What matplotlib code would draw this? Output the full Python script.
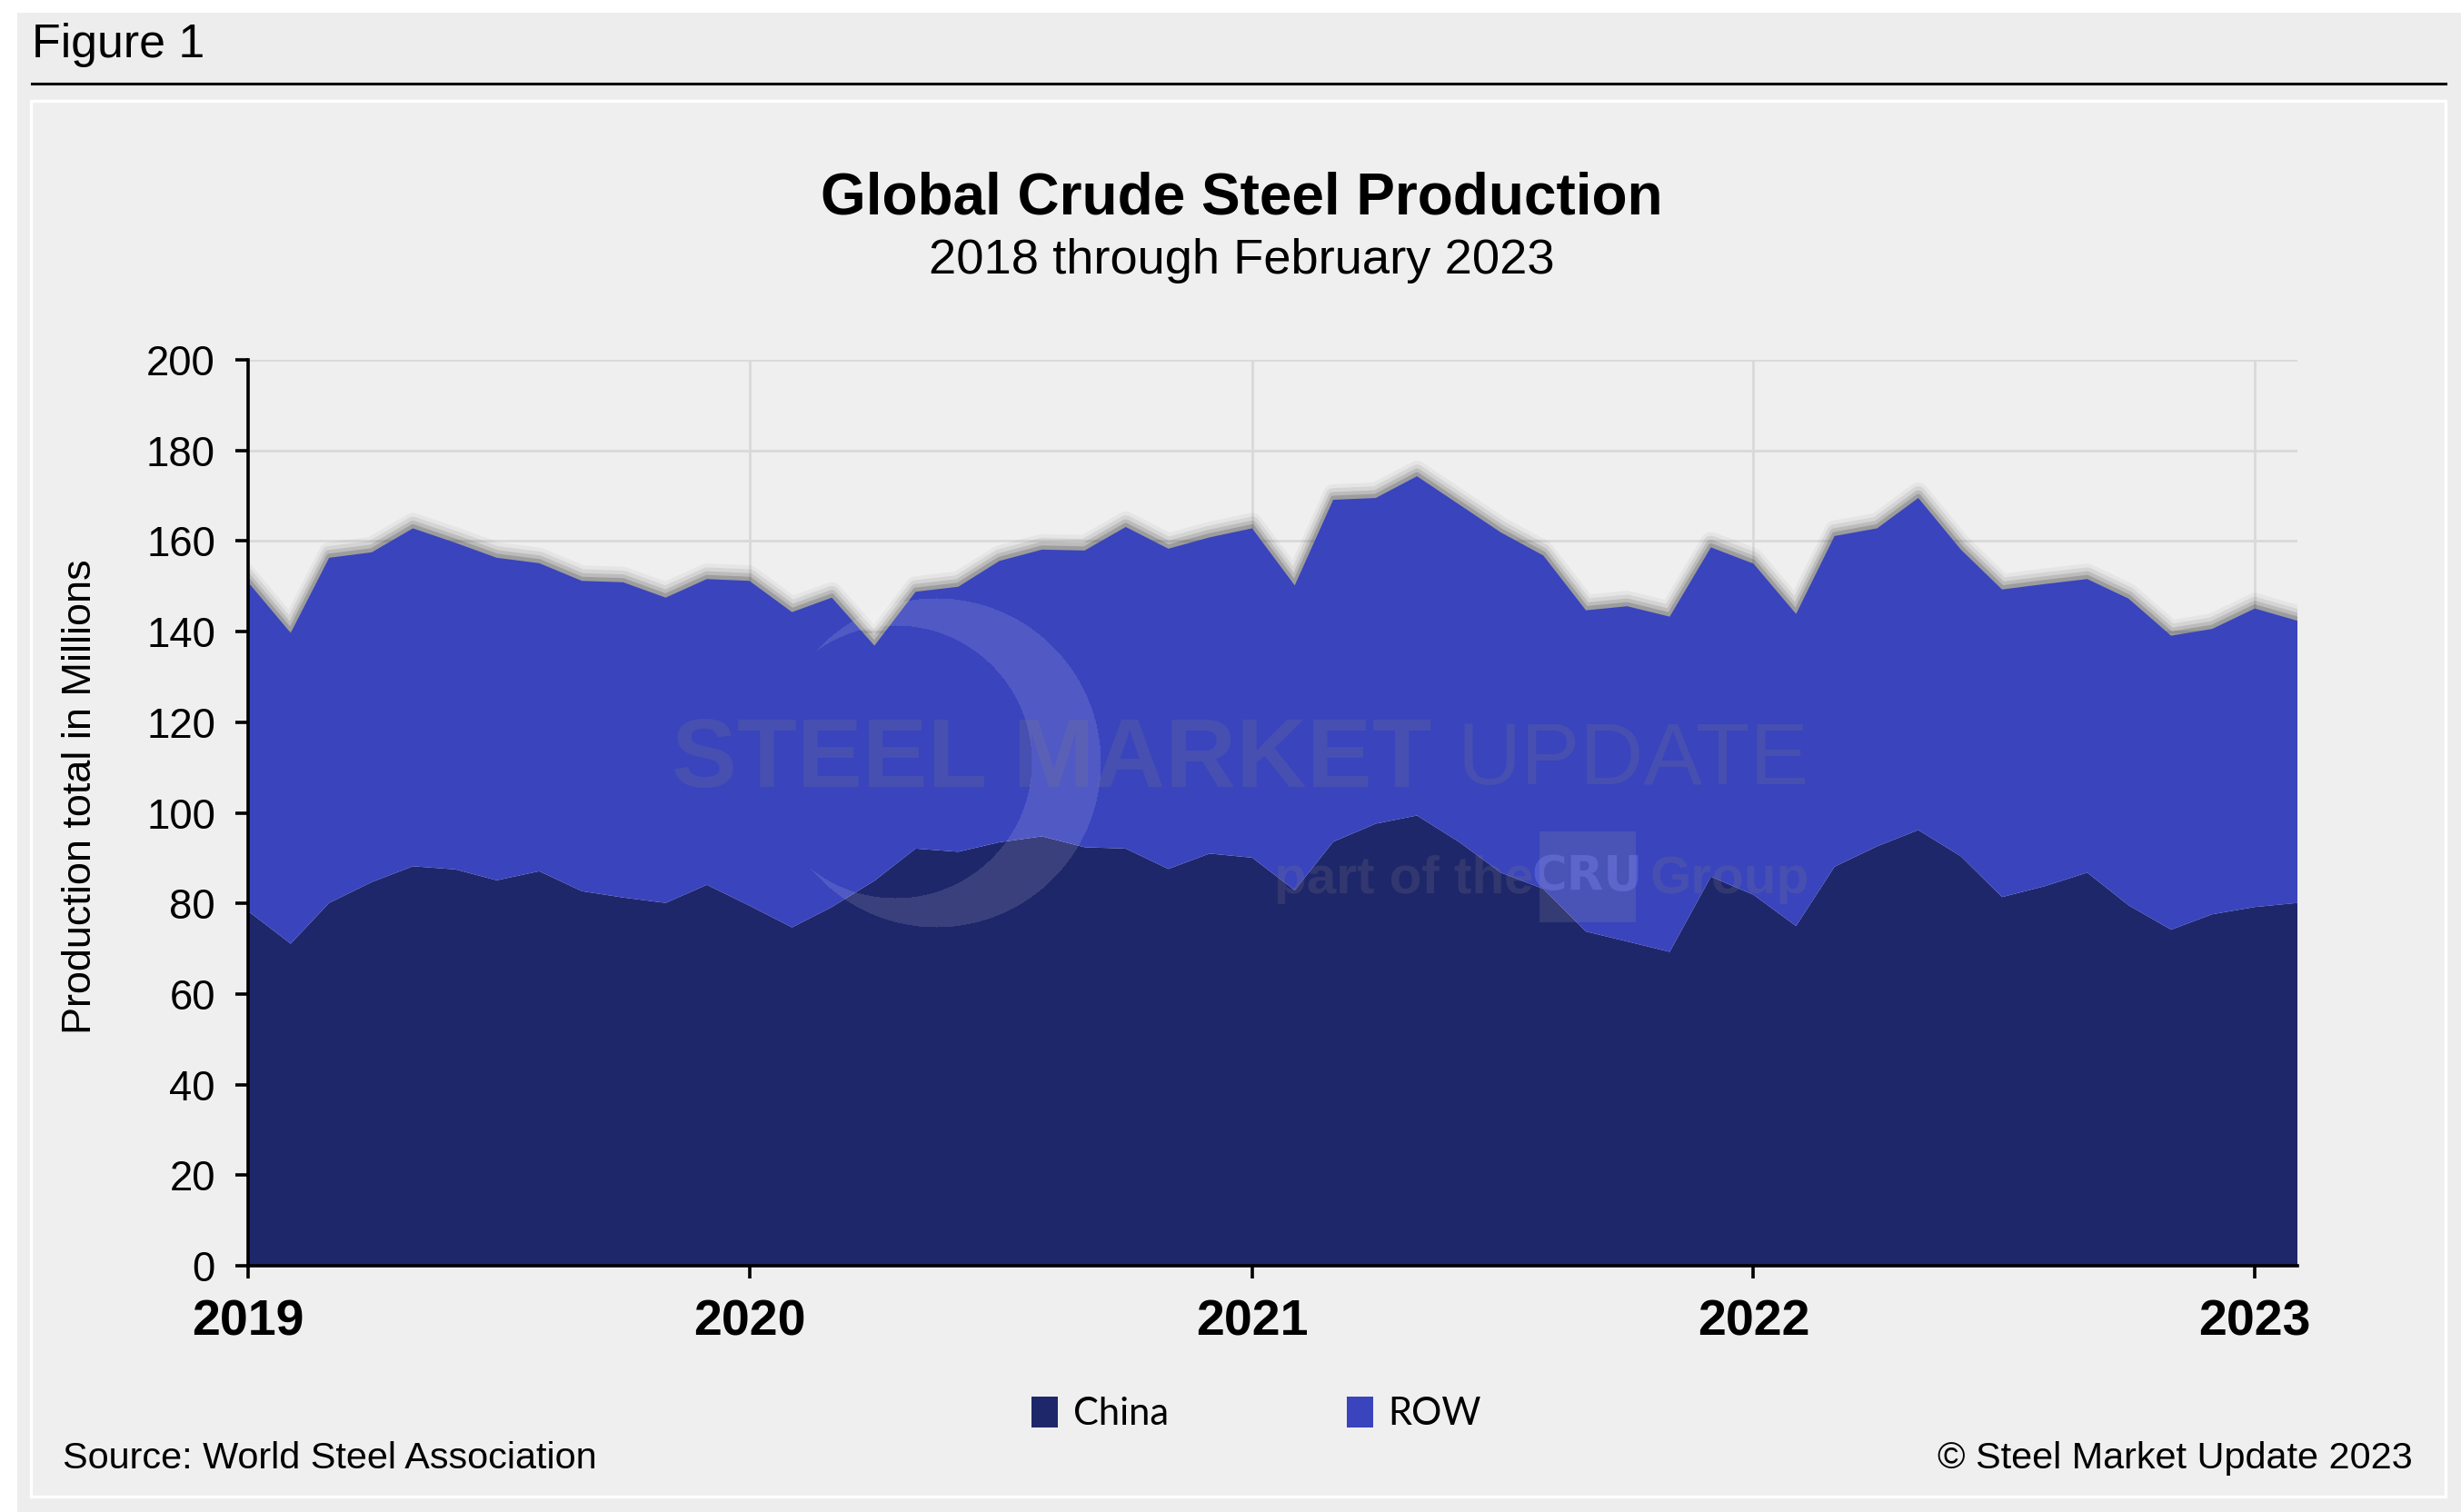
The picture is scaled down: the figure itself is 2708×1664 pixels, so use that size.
import numpy as np
import pandas as pd
import matplotlib.pyplot as plt
from matplotlib.patches import Rectangle
from matplotlib.lines import Line2D

# monthly data, Jan 2019 - Feb 2023 (million tonnes)
months = pd.date_range('2019-01-01', periods=50, freq='MS')
china = [78.3, 71.1, 80.1, 84.7, 88.2, 87.5, 85.1, 87.1, 82.7, 81.3, 80.1, 84.1,
         79.5, 74.7, 79.2, 85.0, 92.1, 91.4, 93.5, 94.8, 92.4, 92.1, 87.6, 91.0,
         90.1, 82.9, 93.6, 97.6, 99.4, 93.5, 86.8, 83.2, 73.8, 71.6, 69.3, 85.9,
         81.9, 75.0, 88.1, 92.6, 96.2, 90.4, 81.4, 83.8, 86.8, 79.6, 74.2, 77.6,
         79.2, 80.1]
total = [150.9, 139.7, 156.3, 157.5, 162.8, 159.6, 156.3, 155.1, 151.2, 150.9, 147.5, 151.6,
         151.2, 144.3, 147.5, 136.9, 148.8, 149.9, 155.6, 158.1, 157.9, 163.1, 158.3, 160.8,
         162.8, 150.2, 169.1, 169.5, 174.3, 168.0, 161.9, 156.8, 144.7, 145.6, 143.3, 158.6,
         155.0, 143.9, 161.1, 162.8, 169.5, 158.1, 149.3, 150.5, 151.6, 147.3, 139.1, 140.6,
         145.1, 142.4]
row = [round(t - c, 1) for t, c in zip(total, china)]

years = ['2019', '2020', '2021', '2022', '2023']
c_china = '#1F276B'
c_row = '#3944BD'

W, H = 2708, 1664
fig = plt.figure(figsize=(W / 200, H / 200), dpi=200, facecolor='#EDEDED')

# white margins + panel
fig.patches.append(Rectangle((0, 1 - 14 / H), 1, 14 / H, transform=fig.transFigure,
                             facecolor='white', edgecolor='none', zorder=-3))
fig.patches.append(Rectangle((0, 0), 19 / W, 1, transform=fig.transFigure,
                             facecolor='white', edgecolor='none', zorder=-3))
fig.patches.append(Rectangle((34 / W, 1 - 1647 / H), (2691 - 34) / W, (1647 - 111) / H,
                             transform=fig.transFigure, facecolor='#EFEFEF',
                             edgecolor='white', linewidth=1.2, zorder=-2))
fig.lines.append(Line2D([35 / W, 2691 / W], [1 - 92 / H, 1 - 92 / H],
                        transform=fig.transFigure, color='black', linewidth=1.1))

fig.text(35 / W, 1 - 50 / H, 'Figure 1', fontsize=18.7, family='Liberation Sans', va='center')
fig.text(0.5045, 1 - 218 / H, 'Global Crude Steel Production', fontsize=23, weight='bold',
         family='Liberation Sans', ha='center', va='center')
fig.text(0.5045, 1 - 287 / H, '2018 through February 2023', fontsize=19.6,
         family='Liberation Sans', ha='center', va='center')

ax = fig.add_axes([273 / W, 1 - 1393 / H, (2528 - 273) / W, (1393 - 396) / H])
ax.set_facecolor('#EFEFEF')

# shadow along the top edge
for off, lw, a in [(4, 8, 0.04), (3, 6, 0.07), (2, 4, 0.11), (1, 2.2, 0.16)]:
    ax.plot(months, [t + off * 0.3 for t in total], color='black', linewidth=lw,
            alpha=a, zorder=1, solid_joinstyle='round')

ax.stackplot(months, china, row, colors=[c_china, c_row], labels=['China', 'ROW'], zorder=2)

ax.set_ylim(0, 200)
ax.set_yticks(range(0, 201, 20))
ax.set_xlim(months[0], months[-1])
year_ticks = [pd.Timestamp(f'{y}-01-01') for y in years]
ax.set_xticks(year_ticks)
ax.set_xticklabels(years)
ax.grid(True, color='#D9D9D9', linewidth=1.0, zorder=0)
ax.set_axisbelow(True)
for s in ['top', 'right']:
    ax.spines[s].set_visible(False)
ax.spines['left'].set_linewidth(1.3)
ax.spines['bottom'].set_linewidth(1.3)
ax.spines['left'].set_zorder(5)
ax.spines['bottom'].set_zorder(5)
ax.tick_params(axis='y', labelsize=16.4, length=5, width=1.3, pad=8)
ax.tick_params(axis='x', labelsize=20, length=5, width=1.3, pad=8)
for lab in ax.get_xticklabels():
    lab.set_fontweight('bold')
    lab.set_family('Liberation Sans')
for lab in ax.get_yticklabels():
    lab.set_family('Liberation Sans')
ax.set_ylabel('Production total in Millions', fontsize=16.2, family='Liberation Sans')
ax.yaxis.set_label_coords(-0.0727, 0.5176)

leg = fig.legend(loc='center', bbox_to_anchor=(0.5105, 1 - 1556 / H), ncol=2, frameon=False,
                 prop={'family': 'Lato', 'size': 15}, handlelength=0.7, handleheight=0.9,
                 handletextpad=0.4, columnspacing=4.7)

fig.text(69 / W, 1 - 1605 / H, 'Source: World Steel Association', fontsize=14.9,
         family='Liberation Sans', va='center')
fig.text(2655 / W, 1 - 1605 / H, '\u00a9 Steel Market Update 2023', fontsize=14.9,
         family='Liberation Sans', va='center', ha='right')

# watermark crescent
size = 400
yy, xx = np.mgrid[0:size, 0:size]
cx, cy = 1030, 839
ox, oy = cx - size // 2, cy - size // 2
px = xx + ox
py = yy + oy
outer = (px - 1030) ** 2 + (py - 839) ** 2 <= 181 ** 2
inner = (px - 985) ** 2 + (py - 838) ** 2 <= 150 ** 2
mask = outer & ~inner
img = np.zeros((size, size, 4))
img[..., :3] = 1.0
img[..., 3] = mask * 0.12
fig.figimage(img, xo=ox, yo=H - oy - size, origin='upper', zorder=3)

wm = dict(color='#808080', alpha=0.2, family='Liberation Sans', va='center', zorder=4)
fig.text(739 / W, 1 - 838 / H, 'STEEL MARKET', fontsize=38.8, weight='bold', **wm)
fig.text(1603 / W, 1 - 838 / H, 'UPDATE', fontsize=35, weight='light', **wm)
fig.text(1402 / W, 1 - 968 / H, 'part of the', fontsize=21, weight='bold', **wm)
fig.patches.append(Rectangle((1694 / W, 1 - 1015 / H), 106 / W, 100 / H,
                             transform=fig.transFigure, facecolor='#9a9a9a', alpha=0.18,
                             edgecolor='none', zorder=4))
fig.text(1747 / W, 1 - 965 / H, 'CRU', fontsize=19, weight='bold', ha='center',
         color='#8f95ff', alpha=0.3, family='Liberation Sans Narrow', va='center', zorder=4)
fig.text(1816 / W, 1 - 968 / H, 'Group', fontsize=21, weight='bold', **wm)

fig.savefig('out.png', dpi=200, facecolor=fig.get_facecolor())
